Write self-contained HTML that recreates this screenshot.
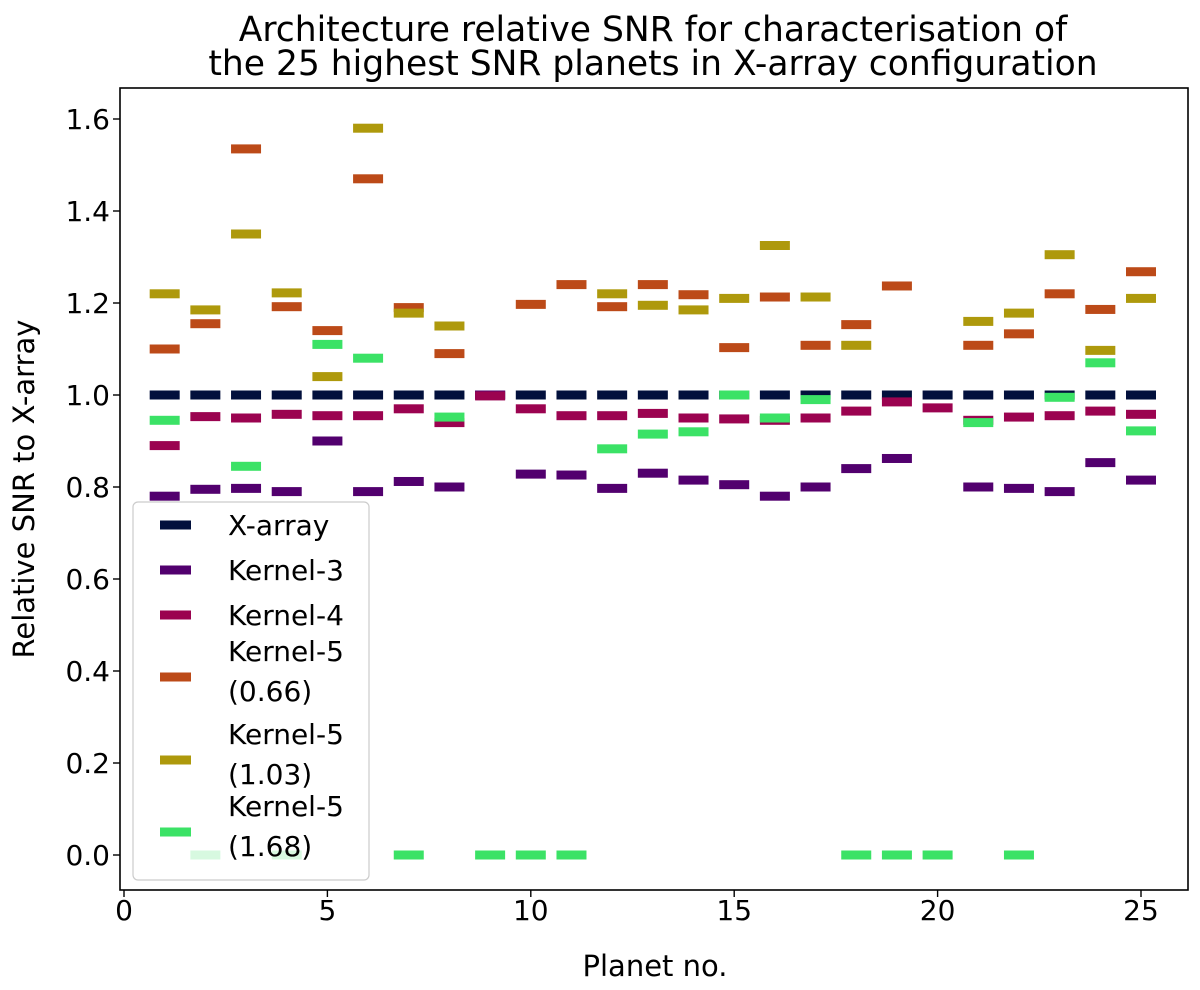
<!DOCTYPE html>
<html><head><meta charset="utf-8"><style>
body{margin:0;background:#fff;}
svg text{font-family:"DejaVu Sans","Liberation Sans",sans-serif;fill:#000;}
</style></head><body>
<svg id="chart" width="1200" height="985" xmlns="http://www.w3.org/2000/svg">
<text x="653" y="41" font-size="34.5" text-anchor="middle">Architecture relative SNR for characterisation of</text>
<text x="653" y="75" font-size="34.5" text-anchor="middle">the 25 highest SNR planets in X-array configuration</text>
<g id="marks"></g>
<g id="axes"></g>
<text x="655" y="976" font-size="29" text-anchor="middle">Planet no.</text>
<text transform="translate(34,489) rotate(-90)" font-size="29" text-anchor="middle">Relative SNR to X-array</text>
<g id="legend"></g>
</svg>
<script>
const planets=[1,2,3,4,5,6,7,8,9,10,11,12,13,14,15,16,17,18,19,20,21,22,23,24,25];
const xarray=[1,1,1,1,1,1,1,1,1,1,1,1,1,1,1,1,1,1,1,1,1,1,1,1,1];
const kernel3=[0.78,0.795,0.797,0.79,0.9,0.79,0.812,0.80,1.0,0.828,0.826,0.797,0.83,0.815,0.805,0.78,0.80,0.84,0.862,null,0.80,0.797,0.79,0.853,0.815];
const kernel4=[0.89,0.953,0.95,0.958,0.955,0.955,0.97,0.94,0.998,0.97,0.955,0.955,0.96,0.95,0.948,0.945,0.95,0.965,0.985,0.972,0.945,0.952,0.955,0.965,0.958];
const kernel5a=[1.10,1.155,1.535,1.192,1.14,1.47,1.19,1.09,null,1.197,1.24,1.192,1.24,1.218,1.103,1.213,1.108,1.153,1.237,null,1.108,1.133,1.22,1.186,1.268];
const kernel5b=[1.22,1.185,1.35,1.222,1.04,1.58,1.178,1.15,null,null,null,1.22,1.195,1.185,1.21,1.325,1.213,1.108,null,null,1.16,1.178,1.305,1.097,1.21];
const kernel5c=[0.945,0,0.845,0,1.11,1.08,0,0.952,0,0,0,0.883,0.915,0.92,1.0,0.95,0.99,0,0,0,0.94,0,0.995,1.07,0.922];
const xTicks=[0,5,10,15,20,25];
const yTicks=[0.0,0.2,0.4,0.6,0.8,1.0,1.2,1.4,1.6];
const seriesNames=["X-array","Kernel-3","Kernel-4","Kernel-5\n(0.66)","Kernel-5\n(1.03)","Kernel-5\n(1.68)"];
const series=[xarray,kernel3,kernel4,kernel5a,kernel5b,kernel5c];
const colors=["#02103c","#52006e","#9b0350","#bc4a18","#ae990c","#3be266"];
const L=120,R=1188,T=88,B=890;
const xs=v=>124+v*40.68;
const ys=v=>855-v*460;
const NS="http://www.w3.org/2000/svg";
function mk(tag,attrs,parent){const e=document.createElementNS(NS,tag);for(const k in attrs)e.setAttribute(k,attrs[k]);parent.appendChild(e);return e;}
const marks=document.getElementById('marks');
series.forEach((s,si)=>{s.forEach((v,i)=>{if(v===null)return;
 const r=mk('rect',{x:xs(planets[i])-15,y:ys(v)-4.5,width:30,height:9,fill:colors[si]},marks);
 
 
});});
const axes=document.getElementById('axes');
const fr=mk('rect',{x:L,y:T,width:R-L,height:B-T,fill:'none',stroke:'#000','stroke-width':1.6},axes);


xTicks.forEach(t=>{const x=xs(t);mk('line',{x1:x,x2:x,y1:B,y2:B+7,stroke:'#000','stroke-width':1.4},axes);
 const tx=mk('text',{x:x,y:B+30,'font-size':28,'text-anchor':'middle'},axes);tx.textContent=t;
 
 });
yTicks.forEach(t=>{const y=ys(t);mk('line',{x1:L-7,x2:L,y1:y,y2:y,stroke:'#000','stroke-width':1.4},axes);
 const tx=mk('text',{x:L-10,y:y+10,'font-size':28,'text-anchor':'end'},axes);tx.textContent=t.toFixed(1);
 
 });
const lg=document.getElementById('legend');
const box=mk('rect',{x:133,y:502,width:236,height:378,rx:5,fill:'#fff','fill-opacity':0.8,stroke:'#ccc','stroke-width':1.2},lg);


const ly=[525,570,615,677,760,832];
seriesNames.forEach((n,i)=>{const lines=n.split("\n");
 const r=mk('rect',{x:160,y:ly[i]-4.5,width:31,height:9,fill:colors[i]},lg);
 
 
 lines.forEach((ln,j)=>{const base=lines.length>1?ly[i]-16+j*40:ly[i]+10;
  const t=mk('text',{x:228,y:base,'font-size':28},lg);t.textContent=ln;
  
  });
});
</script>
</body></html>
